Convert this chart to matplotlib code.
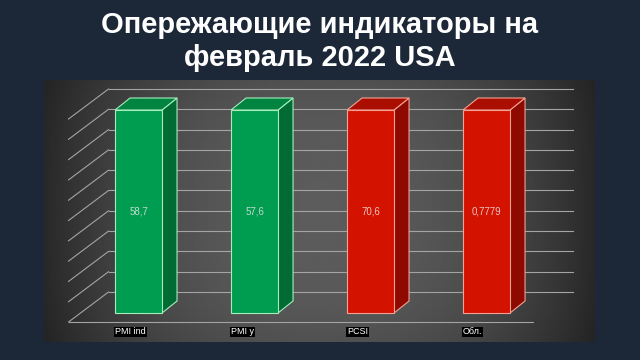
import numpy as np
import matplotlib
matplotlib.use("Agg")
import matplotlib.pyplot as plt
from matplotlib.patches import Polygon

plt.rcParams['font.family'] = ['Liberation Sans', 'DejaVu Sans']

# =========================
# данные
# =========================
categories = ["PMI ind", "PMI y", "PCSI", "Обл."]
value_labels = ["58,7", "57,6", "70,6", "0,7779"]
bar_heights = [100, 100, 100, 100]          # нормированная высота, %
is_positive = [True, True, False, False]
grid_values = np.arange(0, 101, 10)

title_line1 = "Опережающие индикаторы на"
title_line2 = "февраль 2022 USA"

# =========================
# цвета
# =========================
BG = "#1c2838"
GREEN = dict(front="#009c50", side="#006b33", top="#00843f", edge="#a6ecbc")
RED = dict(front="#d41200", side="#8e0a00", top="#aa0e00", edge="#f4a092")
GRID = "#a4a4a4"

fig = plt.figure(figsize=(6.4, 3.6), dpi=100, facecolor=BG)

# панель графика (в пикселях: x 44..595, y 80..342)
ax = fig.add_axes([44 / 640, 18 / 360, 551 / 640, 262 / 360])
xlim = (-0.815, 3.935)
ylim = (-14.29, 114.78)
ax.set_xlim(xlim)
ax.set_ylim(ylim)
ax.axis("off")

# перевод пикселей в единицы данных
ux = (xlim[1] - xlim[0]) / 551
uy = (ylim[1] - ylim[0]) / 262

# фон панели - градиент
t = np.linspace(0, 1, 300)
horiz = 0.16 + 0.20 * (1 - np.abs(2 * t - 1) ** 2.2)
s = np.linspace(0, 1, 120)
vert = 1 - 0.12 * np.abs(2 * s - 1) ** 3
shade = np.outer(vert, horiz)
ax.imshow(shade, cmap="gray", vmin=0, vmax=1, extent=(*xlim, *ylim),
          aspect="auto", zorder=0, interpolation="bilinear")

# =========================
# стены и сетка
# =========================
x_left, x_right = -0.5, 3.5
back_dx, back_dy = 28 * ux, 21 * uy      # задняя стена
front_dx, front_dy = -12 * ux, -9 * uy   # передний край пола

for v in grid_values:
    ax.plot([x_left + back_dx, x_right + back_dx], [v + back_dy, v + back_dy],
            color=GRID, lw=0.8, zorder=1)
    ax.plot([x_left + front_dx, x_left + back_dx], [v + front_dy, v + back_dy],
            color=GRID, lw=0.8, zorder=1)

ax.plot([x_left + front_dx, x_right + front_dx], [front_dy, front_dy],
        color=GRID, lw=0.8, zorder=1)

# =========================
# 3D столбцы
# =========================
width = 0.405
depth_dx, depth_dy = 15 * ux, 12 * uy

for i, (h, pos) in enumerate(zip(bar_heights, is_positive)):
    c = GREEN if pos else RED
    x0, x1 = i - width / 2, i + width / 2

    side = Polygon([(x1, 0), (x1 + depth_dx, depth_dy), (x1 + depth_dx, h + depth_dy), (x1, h)],
                   closed=True, facecolor=c["side"], edgecolor=c["edge"], lw=0.8, zorder=3)
    top = Polygon([(x0, h), (x1, h), (x1 + depth_dx, h + depth_dy), (x0 + depth_dx, h + depth_dy)],
                  closed=True, facecolor=c["top"], edgecolor=c["edge"], lw=0.8, zorder=3)
    ax.add_patch(side)
    ax.add_patch(top)
    ax.bar(i, h, width=width, bottom=0, color=c["front"], edgecolor=c["edge"],
           linewidth=0.8, zorder=4)

    ax.text(i, h / 2, value_labels[i], ha="center", va="center",
            fontsize=7, color="#e6e6e6", alpha=0.85, zorder=5)
    ax.text(x0, -19 * uy, categories[i], ha="left", va="center", fontsize=6.5,
            color="white", zorder=5,
            bbox=dict(boxstyle="square,pad=0.1", facecolor="black", edgecolor="none"))

# =========================
# заголовок
# =========================
fig.text(0.5, 1 - 33 / 360, title_line1, ha="center", va="baseline",
         fontsize=21, fontweight="bold", color="white")
fig.text(0.5, 1 - 66 / 360, title_line2, ha="center", va="baseline",
         fontsize=21, fontweight="bold", color="white")

fig.savefig("out.png", dpi=100, facecolor=BG)
